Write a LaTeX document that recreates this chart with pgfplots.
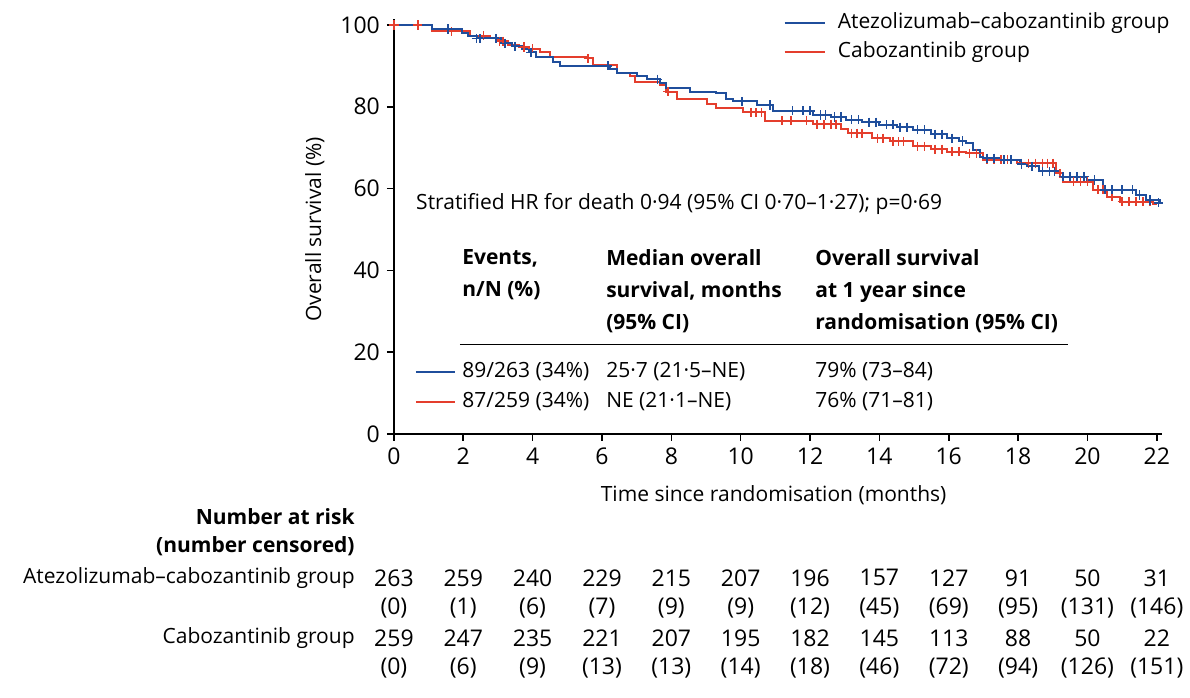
\documentclass[border=0pt]{standalone}
\usepackage{pgfplots}
\pgfplotsset{compat=1.18}
\usepackage{fontspec}
\setmainfont{Open Sans}
\definecolor{ablue}{RGB}{31,78,156}
\definecolor{cred}{RGB}{228,62,45}
\newcommand{\numfont}{\fontsize{11.5}{14}\selectfont}
\begin{document}
\begin{tikzpicture}[font=\fontsize{10.5}{16}\selectfont]
\begin{axis}[
 x=17.34pt, y=2.045pt,
 xmin=0, xmax=22.15, ymin=0, ymax=101.5,
 axis lines=left, axis line style={-, line width=0.8pt},
 xtick={0,2,...,22}, ytick={0,20,...,100},
 tick align=outside, major tick length=3.5pt,
 tick style={line width=0.8pt, black},
 clip=false,
 /pgf/number format/assume math mode=true,
 tick label style={font=\numfont},
]
% Cabozantinib group
\addplot[const plot, cred, line width=1pt] coordinates {
(0,100) (1.09,98.4) (2.19,97.4) (2.77,96.7) (3.0,96.0) (3.3,95.2) (3.6,94.6) (3.9,94.2)
(4.21,93.4) (4.5,92.2) (5.56,91.8) (5.75,90.2) (6.42,88.2) (6.8,87.4) (6.95,86.0) (7.67,85.3)
(7.86,83.7) (8.15,81.8) (9.02,80.7) (9.3,79.6) (10.07,78.6) (10.7,76.6) (12.09,75.7) (12.9,74.5)
(13.1,73.5) (13.8,72.3) (14.3,71.5) (14.97,70.3) (15.5,69.6) (15.94,69.0) (16.5,68.6) (17.0,67.0)
(17.96,66.2) (19.1,63.7) (19.3,61.7) (20.17,59.7) (20.55,58.0) (20.93,56.8) (21.9,56.3) (22.0,56.3)};
\addplot[only marks, mark=+, cred, mark size=2.3pt, mark options={line width=0.8pt}] coordinates {
(0,100) (0.69,100) (1.66,98.4) (2.58,97.4) (3.05,96.0) (3.15,96.0) (3.75,94.6) (4.0,94.2)
(5.6,91.8) (7.9,83.7) (10.3,78.6) (10.45,78.6) (10.6,78.6) (11.2,76.6) (11.45,76.6) (11.9,76.6)
(12.2,75.7) (12.4,75.7) (12.6,75.7) (12.75,75.7) (13.2,73.5) (13.35,73.5) (13.5,73.5) (13.95,72.3)
(14.1,72.3) (14.4,71.5) (14.55,71.5) (14.7,71.5) (15.1,70.3) (15.3,70.3) (15.6,69.6) (15.8,69.6)
(16.1,69.0) (16.3,69.0) (16.6,68.6) (16.8,68.6) (17.1,67.0) (17.3,67.0) (17.5,67.0) (17.7,67.0)
(18.1,66.2) (18.3,66.2) (18.5,66.2) (18.7,66.2) (18.85,66.2) (19.0,66.2) (19.2,63.7) (19.6,61.7)
(19.8,61.7) (20.0,61.7) (20.3,59.7) (20.45,59.7) (20.7,58.0) (21.0,56.8) (21.2,56.8) (21.4,56.8)
(21.6,56.8) (21.8,56.8)};
% Atezolizumab-cabozantinib group
\addplot[const plot, ablue, line width=1pt] coordinates {
(0,100) (1.09,99.0) (1.95,98.0) (2.13,97.2) (2.4,96.7) (3.1,95.5) (3.4,94.8) (3.7,94.0)
(3.9,93.3) (4.11,92.2) (4.59,91.0) (4.8,90.0) (6.23,89.2) (6.42,88.3) (7.0,87.5) (7.29,86.7)
(7.67,85.7) (7.86,84.5) (8.54,83.7) (9.3,83.3) (9.59,82.0) (9.78,81.3) (10.46,80.4) (10.94,79.0)
(12.09,78.0) (12.6,77.5) (13.05,76.8) (13.5,76.2) (14.0,75.6) (14.5,75.0) (14.97,74.4) (15.5,73.3)
(15.94,72.3) (16.3,71.6) (16.51,71.1) (16.7,69.5) (16.9,67.8) (17.0,67.4) (17.5,67.0) (18.05,66.0)
(18.25,65.4) (18.6,64.2) (19.2,62.9) (20.0,62.1) (20.45,59.7) (21.4,58.4) (21.7,57.2) (22.08,56.5)};
\addplot[only marks, mark=+, ablue, mark size=2.3pt, mark options={line width=0.8pt}] coordinates {
(1.56,99.0) (2.38,96.7) (2.48,96.7) (2.95,96.7) (3.2,95.5) (3.5,94.8) (3.95,93.3) (6.17,90.0)
(7.6,86.7) (10.03,81.3) (10.84,80.4) (11.5,79.0) (11.8,79.0) (12.0,79.0) (12.3,78.0) (12.45,78.0)
(12.7,77.5) (12.9,77.5) (13.2,76.8) (13.4,76.8) (13.7,76.2) (13.9,76.2) (14.2,75.6) (14.4,75.6)
(14.6,75.0) (14.8,75.0) (15.1,74.4) (15.3,74.4) (15.6,73.3) (15.8,73.3) (16.1,72.3) (16.4,71.6)
(17.1,67.4) (17.3,67.4) (17.6,67.0) (17.8,67.0) (18.1,66.0) (18.4,65.4) (18.7,64.2) (18.9,64.2)
(19.05,64.2) (19.3,62.9) (19.5,62.9) (19.7,62.9) (19.9,62.9) (20.2,62.1) (20.5,59.7) (20.7,59.7)
(21.0,59.7) (21.3,59.7) (21.5,58.4) (21.8,57.2) (22.05,56.5)};

% labels
\node[rotate=90] at (axis cs:-2.28,50) {Overall survival (\%)};
\node at (axis cs:10.95,-14.9) {Time since randomisation (months)};

% legend
\draw[ablue, line width=1pt] (axis cs:11.27,100.5) -- (axis cs:12.43,100.5);
\node[anchor=west] at (axis cs:12.6,100.5) {Atezolizumab–cabozantinib group};
\draw[cred, line width=1pt] (axis cs:11.27,93.4) -- (axis cs:12.43,93.4);
\node[anchor=west] at (axis cs:12.6,93.4) {Cabozantinib group};

% annotation
\node[anchor=west] at (axis cs:0.44,56.2) {Stratified HR for death 0·94 (95\% CI 0·70–1·27); p=0·69};
\node[anchor=north west, align=left, font=\fontsize{10.5}{16}\selectfont\bfseries] at (axis cs:1.77,46.7) {Events,\\n/N (\%)};
\node[anchor=north west, align=left, font=\fontsize{10.5}{16}\selectfont\bfseries] at (axis cs:5.92,46.7) {Median overall\\survival, months\\(95\% CI)};
\node[anchor=north west, align=left, font=\fontsize{10.5}{16}\selectfont\bfseries] at (axis cs:11.95,46.7) {Overall survival\\at 1 year since\\randomisation (95\% CI)};
\draw[line width=0.6pt] (axis cs:1.9,21.8) -- (axis cs:19.43,21.8);
\draw[ablue, line width=0.8pt] (axis cs:0.63,15.2) -- (axis cs:1.76,15.2);
\draw[cred, line width=0.8pt] (axis cs:0.63,7.8) -- (axis cs:1.76,7.8);
\node[anchor=west] at (axis cs:1.77,15.2) {89/263 (34\%)};
\node[anchor=west] at (axis cs:5.92,15.2) {25·7 (21·5–NE)};
\node[anchor=west] at (axis cs:11.95,15.2) {79\% (73–84)};
\node[anchor=west] at (axis cs:1.77,7.8) {87/259 (34\%)};
\node[anchor=west] at (axis cs:5.92,7.8) {NE (21·1–NE)};
\node[anchor=west] at (axis cs:11.95,7.8) {76\% (71–81)};

% risk table
\node[anchor=east, font=\fontsize{10.5}{16}\selectfont\bfseries] at (axis cs:-0.93,-20.3) {Number at risk};
\node[anchor=east, font=\fontsize{10.5}{16}\selectfont\bfseries] at (axis cs:-0.93,-27.4) {(number censored)};
\node[anchor=east] at (axis cs:-0.93,-35.2) {Atezolizumab–cabozantinib group};
\node[anchor=east] at (axis cs:-0.93,-49.9) {Cabozantinib group};
\foreach \tm/\nr/\nc in {0/263/0,2/259/1,4/240/6,6/229/7,8/215/9,10/207/9,12/196/12,14/157/45,16/127/69,18/91/95,20/50/131,22/31/146}{
  \edef\tmp{\noexpand\node[font=\noexpand\numfont] at (axis cs:\tm,-35.2) {\nr}; \noexpand\node[font=\noexpand\numfont] at (axis cs:\tm,-42.5) {(\nc)};}
  \tmp
}
\foreach \tm/\nr/\nc in {0/259/0,2/247/6,4/235/9,6/221/13,8/207/13,10/195/14,12/182/18,14/145/46,16/113/72,18/88/94,20/50/126,22/22/151}{
  \edef\tmp{\noexpand\node[font=\noexpand\numfont] at (axis cs:\tm,-49.9) {\nr}; \noexpand\node[font=\noexpand\numfont] at (axis cs:\tm,-57.2) {(\nc)};}
  \tmp
}
\path (axis cs:-11.36,-64.5) rectangle (axis cs:22.95,106.1);
\end{axis}
\end{tikzpicture}
\end{document}
